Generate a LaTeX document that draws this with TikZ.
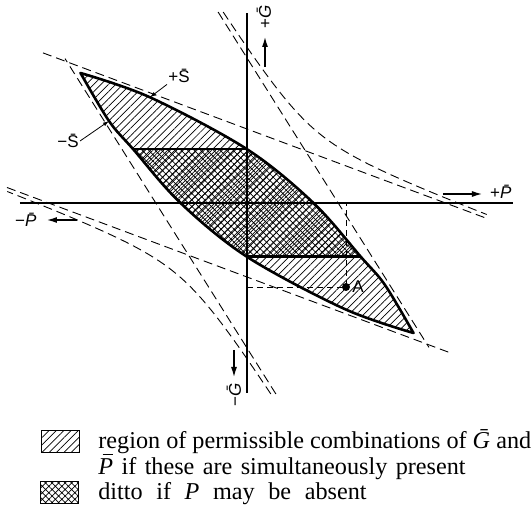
\documentclass[tikz,border=0pt]{standalone}
\usepackage{fontspec}
\setmainfont{Liberation Serif}
\setsansfont{Liberation Sans}
\usetikzlibrary{arrows.meta, patterns.meta, positioning}

% italic letter with a drawn bar
\newcommand{\barit}[1]{\makebox[0pt][l]{\hspace{0.17em}\rule[0.78em]{0.45em}{0.045em}}\textit{#1}}

\tikzset{
    % line styles
    axis/.style={line width=0.7pt},
    bound/.style={line width=1.3pt, line join=round},
    limit/.style={dash pattern=on 4.5pt off 2.5pt, line width=0.45pt},
    guide/.style={dash pattern=on 3pt off 2pt, line width=0.45pt},
    dirarrow/.style={-{Latex[length=5pt, width=3pt]}, line width=0.6pt},
    labelarrow/.style={-{Latex[length=3pt, width=2pt]}, line width=0.4pt},
    axlabel/.style={font=\sffamily\fontsize{8.5}{9}\selectfont, inner sep=0.5pt},
    % fills
    hatched/.style={pattern={Lines[angle=45, distance=2.6pt, line width=0.35pt]}},
    crossed/.style={pattern={Hatch[angle=45, distance=2.3pt, line width=0.35pt]}},
    legbox/.style={draw, line width=0.5pt, minimum width=19pt, minimum height=11pt, inner sep=0pt},
    legtext/.style={font=\fontsize{12.1}{12.5}\selectfont, inner sep=0pt, anchor=base west},
    % outer branch of the limit hyperbola
    declare function={
        hx(\a)=58.3+\a-600/\a;   hy(\a)=52.24-0.373*\a+954/\a;
    }
}

\begin{document}
\begin{tikzpicture}[x=0.5pt, y=0.5pt]
    \useasboundingbox (-247,203) rectangle (285,-306);

    % limit lines
    \coordinate (L1a) at (-204,150.1);
    \coordinate (L1b) at (240,-15.5);
    \coordinate (L2a) at (-240,15.5);
    \coordinate (L2b) at (204,-150.1);
    \coordinate (S1a) at (-28.9,191);
    \coordinate (S1b) at (182,-144.4);
    \coordinate (S2a) at (28.9,-191);
    \coordinate (S2b) at (-182,144.4);
    \draw[limit] (L1a) -- (L1b);
    \draw[limit] (L2a) -- (L2b);
    \draw[limit] (S1a) -- (S1b);
    \draw[limit] (S2a) -- (S2b);
    \draw[limit] plot[domain=1.910:5.219, samples=60, smooth] ({hx(exp(\x))},{hy(exp(\x))});
    \draw[limit] plot[domain=1.910:5.219, samples=60, smooth] ({-hx(exp(\x))},{-hy(exp(\x))});

    % permissible region
    \path[save path=\lenspath]
        plot[smooth, tension=0.55] coordinates {(-166.5,130) (-97,105.7) (0,53.8) (66.5,0) (114,-54) (138,-82) (166.5,-130)}
        -- plot[smooth, tension=0.55] coordinates {(166.5,-130) (97,-105.7) (0,-53.8) (-66.5,0) (-114,54) (-138,82) (-166.5,130)}
        -- cycle;
    \fill[hatched, use path=\lenspath];
    \begin{scope}
        \clip[use path=\lenspath];
        \fill[crossed] (-200,-53.8) rectangle (200,53.8);
    \end{scope}

    % axes
    \coordinate (Gtop) at (0,190);
    \coordinate (Gbot) at (0,-190);
    \coordinate (Pleft) at (-227,0);
    \coordinate (Pright) at (266,0);
    \draw[axis] (Gbot) -- (Gtop);
    \draw[axis] (Pleft) -- (Pright);

    \coordinate (cl) at (-114,53.8);
    \coordinate (ct) at (0,53.8);
    \coordinate (cb) at (0,-53.8);
    \coordinate (cr) at (114,-53.8);
    \draw[bound] (cl) -- (ct) -- (cb) -- (cr);
    \draw[bound, use path=\lenspath];

    % point A
    \node[circle, fill, inner sep=0pt, minimum size=4pt] (A) at (99,-84) {};
    \node[axlabel, right=0.3pt of A] (Alab) {A};
    \coordinate (Ah) at (0,-84);
    \coordinate (Av) at (99,0);
    \draw[guide] (Ah) -- (A.center) -- (Av);

    % direction arrows and labels
    \coordinate (gp1) at (18,136);
    \coordinate (gp2) at (18,166);
    \draw[dirarrow] (gp1) -- (gp2);
    \node[axlabel, rotate=90] (gplus) at (17,186) {+\textit{\=G}};
    \coordinate (gm1) at (-13,-147);
    \coordinate (gm2) at (-13,-174);
    \draw[dirarrow] (gm1) -- (gm2);
    \node[axlabel, rotate=90] (gminus) at (-13,-192) {−\textit{\=G}};
    \coordinate (pp1) at (196,9);
    \coordinate (pp2) at (235,9);
    \draw[dirarrow] (pp1) -- (pp2);
    \node[axlabel] (pplus) at (255,11) {+\textit{\=P}};
    \coordinate (pm1) at (-170,-17);
    \coordinate (pm2) at (-200,-17);
    \draw[dirarrow] (pm1) -- (pm2);
    \node[axlabel] (pminus) at (-220,-17) {−\textit{\=P}};

    % stress limits
    \node[axlabel] (splus) at (-68,127) {+\=S};
    \coordinate (sp) at (-97,105.7);
    \draw[labelarrow] (splus.south west) -- (sp);
    \node[axlabel] (sminus) at (-179,62) {−\=S};
    \coordinate (sm) at (-138,82);
    \draw[labelarrow] (sminus.east) -- (sm);

    % legend
    \node[legbox, hatched] (leg1) at (-186,-238.5) {};
    \node[legbox, crossed] (leg2) at (-187,-289.5) {};
    \node[legtext] (leg1a) at (-149,-246) {region of permissible combinations of \textit{\=G} and};
    \node[legtext] (leg1b) at ([yshift=-12.5pt]leg1a.base west) {\spaceskip=4.2pt\barit{P} if these are simultaneously present};
    \node[legtext] (leg2a) at ([yshift=-13pt]leg1b.base west) {\spaceskip=6.8pt ditto if \textit{P} may be absent};
\end{tikzpicture}
\end{document}
